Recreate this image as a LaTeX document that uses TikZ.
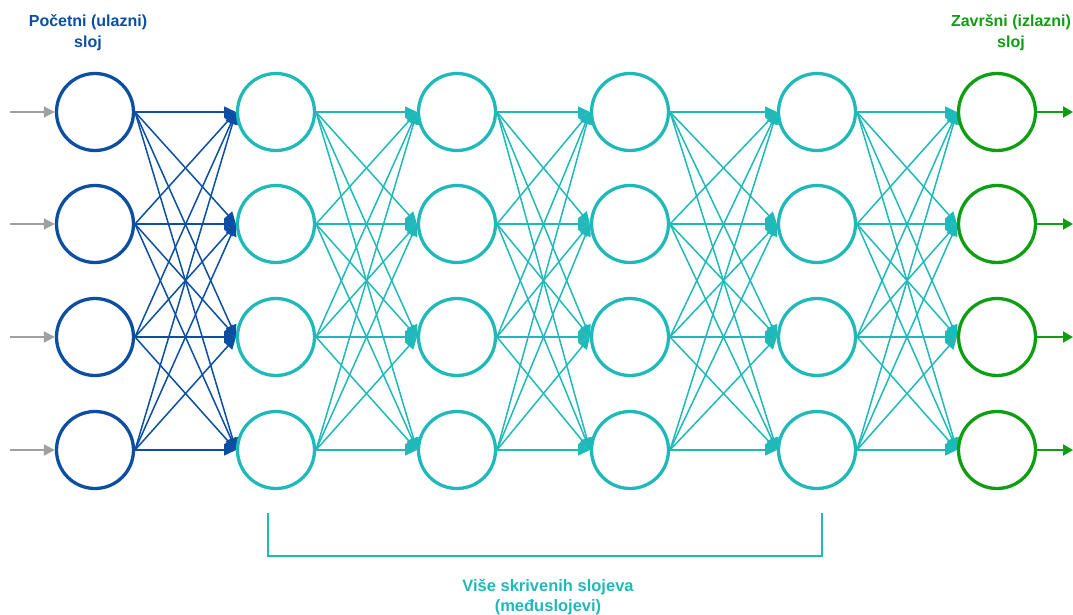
\documentclass[tikz,border=0pt]{standalone}
\usepackage{fontspec}
\setmainfont{Liberation Sans}
\usetikzlibrary{arrows.meta}
\definecolor{cblue}{HTML}{0B4EA2}
\definecolor{cteal}{HTML}{20B9B9}
\definecolor{cgreen}{HTML}{0E9E12}
\definecolor{cgray}{HTML}{A0A0A0}
\begin{document}
\begin{tikzpicture}[x=1pt,y=-1pt,
  neuron/.style={circle,draw,line width=3.3pt,minimum size=77pt,inner sep=0pt,fill=white},
  link/.style={line width=1.5pt,-{Triangle[length=12pt,width=11pt]}},
  lbl/.style={font=\bfseries\fontsize{16}{21}\selectfont,align=center}]
\useasboundingbox (0,0) rectangle (1073,615);
\def\ys{{112,224,337,450}}
\foreach \c/\x in {1/95,2/276,3/457,4/630,5/817,6/997}{
  \foreach \r in {1,2,3,4}{
    \pgfmathsetmacro{\yy}{\ys[\r-1]}
    \coordinate (p\c\r) at (\x,\yy);
  }
}
% edges
\foreach \s in {1,2,3,4}{\foreach \t in {1,2,3,4}{
  \draw[link,cblue] ([xshift=40pt]p1\s) -- ([xshift=-40pt]p2\t);
}}
\foreach \c/\n in {2/3,3/4,4/5,5/6}{
\foreach \s in {1,2,3,4}{\foreach \t in {1,2,3,4}{
  \draw[link,cteal] ([xshift=40pt]p\c\s) -- ([xshift=-40pt]p\n\t);
}}}
% neurons
\foreach \r in {1,2,3,4}{
  \node[neuron,draw=cblue] (n1\r) at (p1\r) {};
  \foreach \c in {2,3,4,5}{\node[neuron,draw=cteal] (n\c\r) at (p\c\r) {};}
  \node[neuron,draw=cgreen] (n6\r) at (p6\r) {};
  \coordinate (in\r) at ([xshift=-85pt]p1\r);
  \coordinate (out\r) at ([xshift=76pt]p6\r);
  \draw[cgray,line width=2pt,-{Triangle[length=11pt,width=11pt]}] (in\r) -- (n1\r.west);
  \draw[cgreen,line width=2pt,-{Triangle[length=10pt,width=11pt]}] (n6\r.east) -- (out\r);
}
% labels
\node[lbl,text=cblue] (tin) at (88,33) {Početni (ulazni)\\sloj};
\node[lbl,text=cgreen] (tout) at (1011,33) {Završni (izlazni)\\sloj};
\coordinate (b1) at (268,513);
\coordinate (b2) at (268,556);
\coordinate (b3) at (822,556);
\coordinate (b4) at (822,513);
\draw[cteal,line width=2.2pt] (b1) -- (b2) -- (b3) -- (b4);
\node[lbl,text=cteal,font=\bfseries\fontsize{16.5}{20}\selectfont] (thid) at (548,597) {Više skrivenih slojeva\\(međuslojevi)};
\end{tikzpicture}
\end{document}
